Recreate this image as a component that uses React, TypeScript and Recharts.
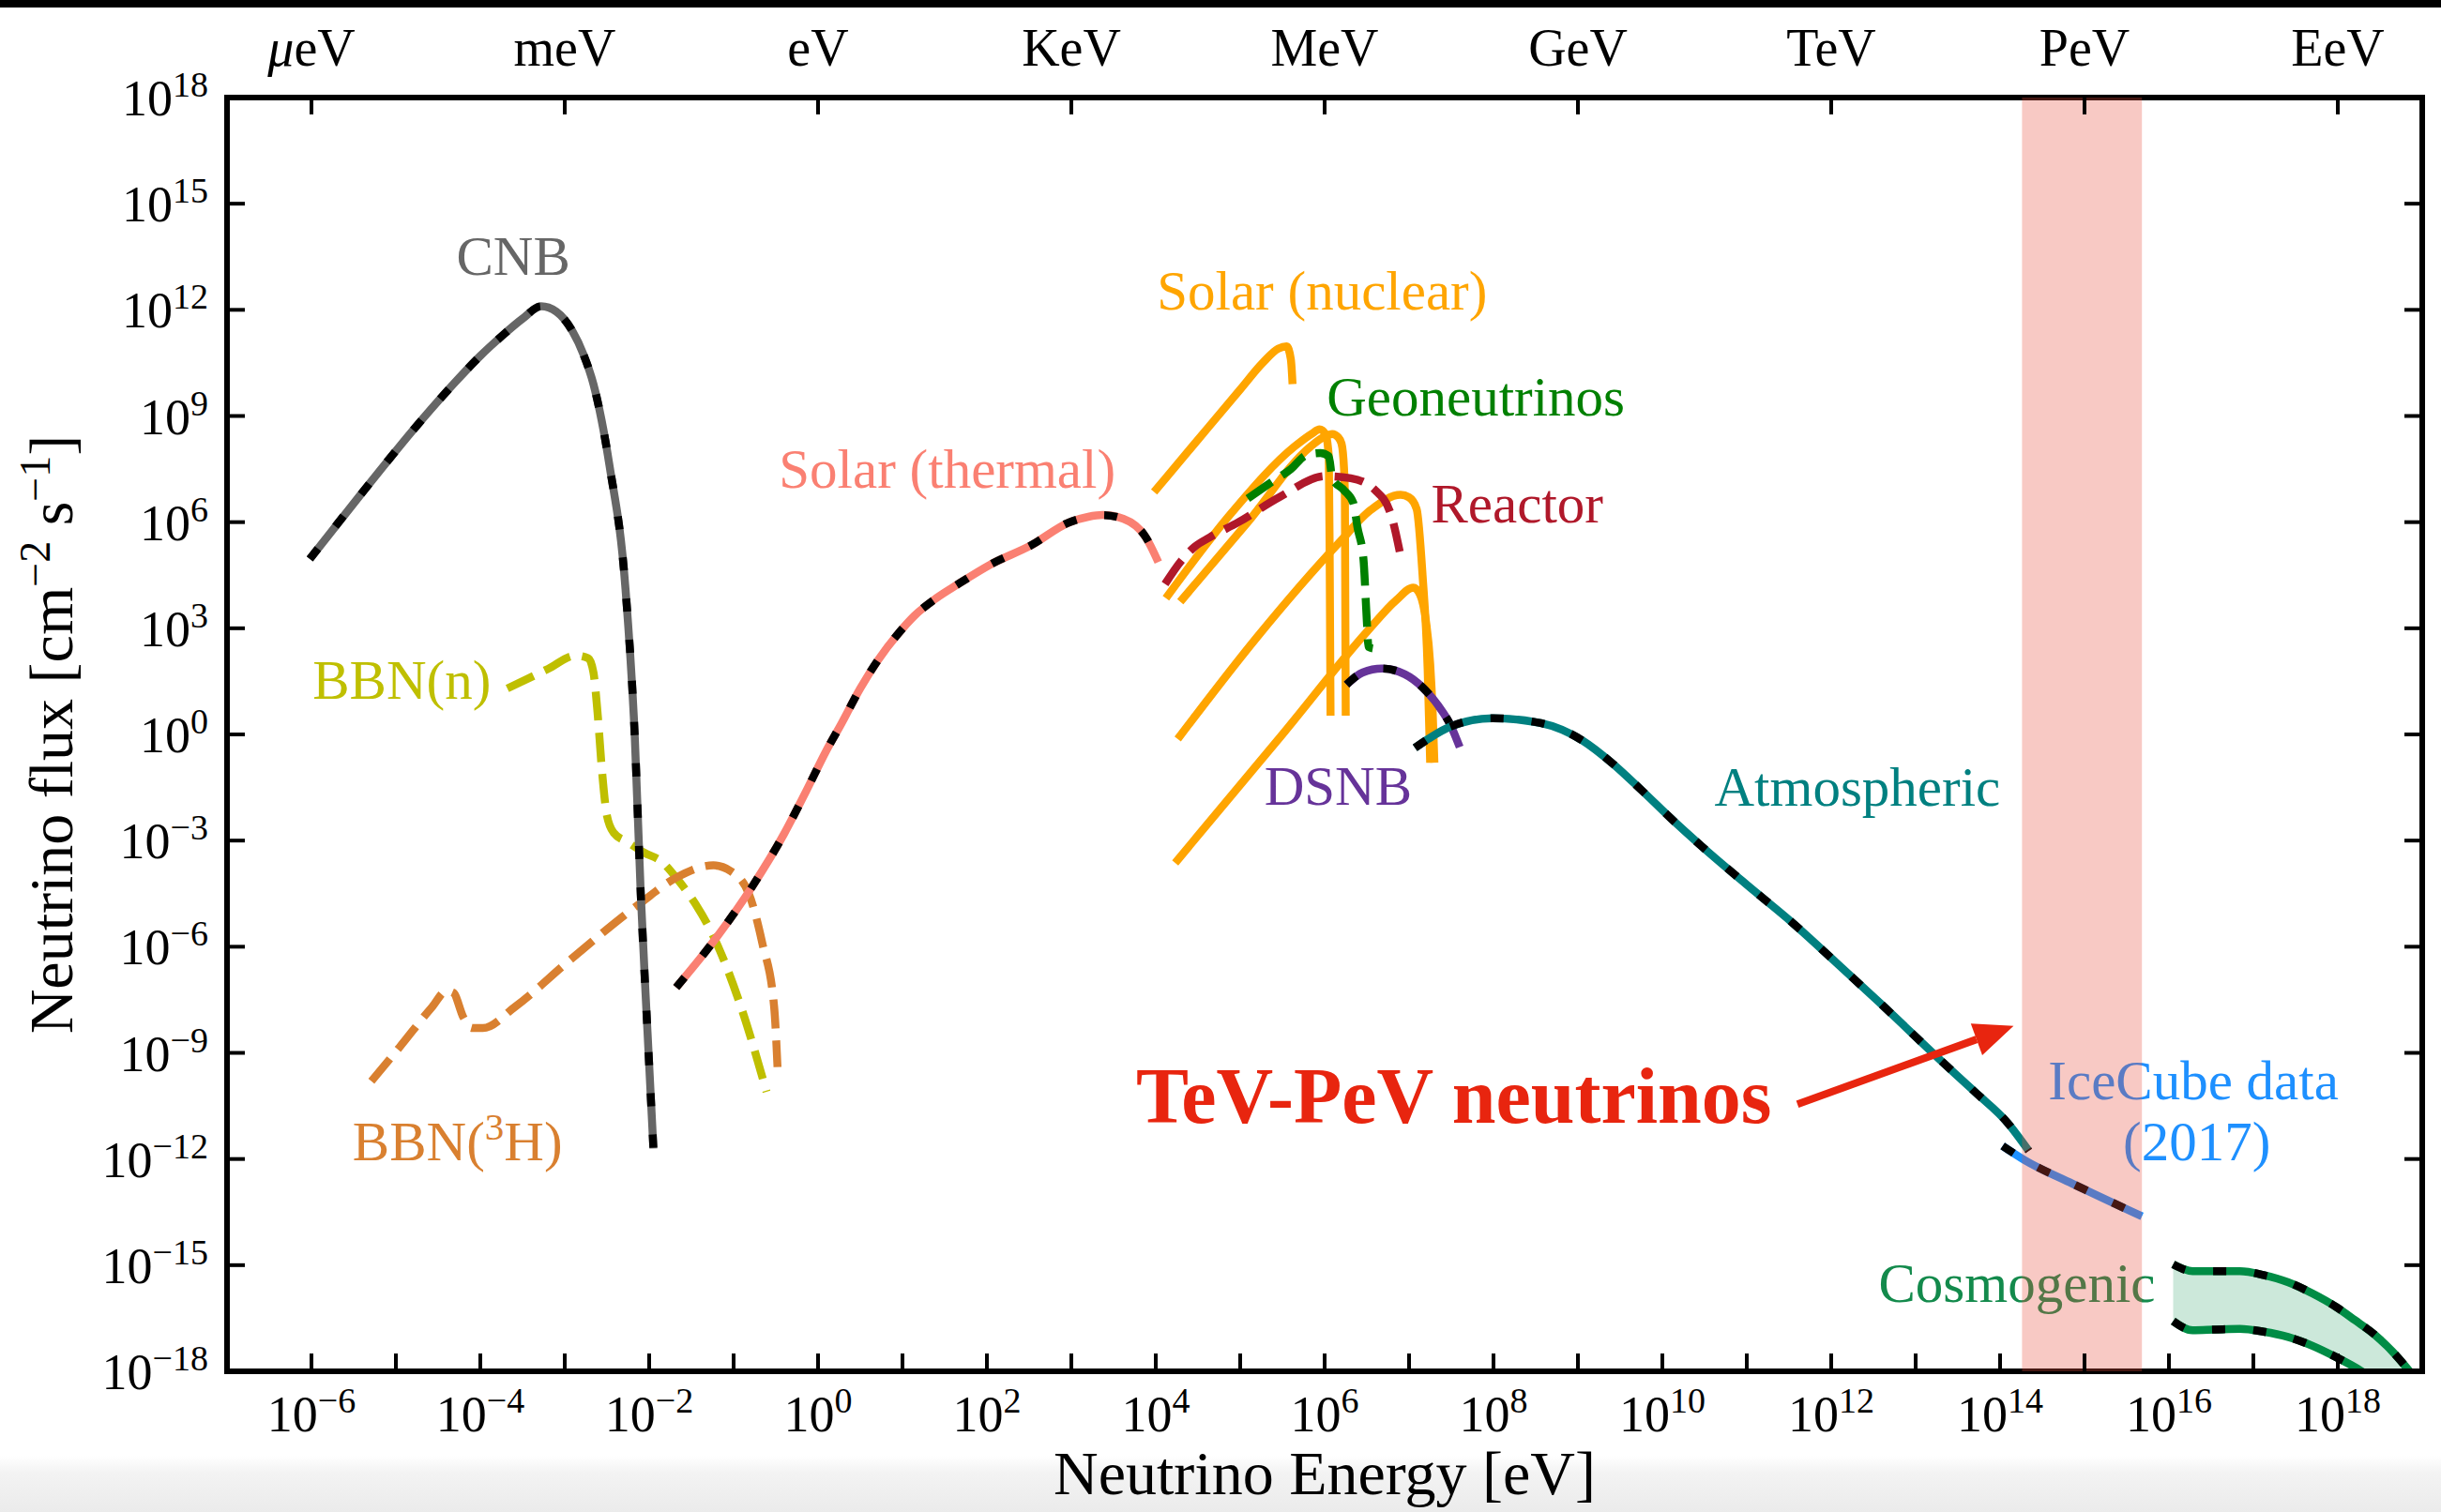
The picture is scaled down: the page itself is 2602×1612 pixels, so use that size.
import React from 'react';
import {
  ComposedChart,
  Line,
  Area,
  XAxis,
  YAxis,
  ReferenceDot,
  ReferenceLine,
} from 'recharts';

const SERIF = '"Liberation Serif", "DejaVu Serif", serif';
const ARROW_RED = '#e8250f';

// every curve: log10(E / eV) against log10(flux / cm^-2 s^-1)
const cnbE = [-6.02, -5.43, -4.69, -4.3, -4.0, -3.75, -3.5, -3.28, -3.1, -2.91, -2.78, -2.66, -2.47, -2.28, -2.17, -2.1, -2.02, -1.95];
const cnbFlux = [4.96, 6.74, 8.9, 9.95, 10.7, 11.25, 11.75, 12.1, 11.95, 11.4, 10.75, 9.9, 7.6, 4.1, -0.1, -4.5, -8.4, -11.7];

const bbnNE = [-3.68, -3.2, -2.87, -2.72, -2.66, -2.61, -2.56, -2.5, -2.42, -2.25, -2.06, -1.85, -1.68, -1.45, -1.24, -0.91, -0.61];
const bbnNFlux = [1.3, 1.85, 2.23, 2.15, 1.75, 0.57, -1.0, -2.3, -2.78, -3.05, -3.34, -3.6, -4.05, -4.8, -5.7, -7.72, -10.1];

const bbnTE = [-5.29, -4.96, -4.57, -4.4, -4.32, -4.2, -4.1, -3.97, -3.59, -2.95, -2.1, -1.68, -1.24, -1.03, -0.82, -0.66, -0.52, -0.48];
const bbnTFlux = [-9.8, -8.85, -7.7, -7.25, -7.3, -8.0, -8.3, -8.3, -7.7, -6.4, -4.76, -4.05, -3.7, -3.87, -4.5, -5.9, -7.7, -9.4];

const thermalE = [-1.68, -1.2, -0.78, -0.4, -0.14, 0.1, 0.28, 0.5, 0.71, 0.95, 1.14, 1.4, 1.66, 2.04, 2.52, 2.98, 3.2, 3.37, 3.62, 3.88, 4.03];
const thermalFlux = [-7.15, -5.73, -4.3, -2.8, -1.6, -0.45, 0.32, 1.3, 2.1, 2.85, 3.35, 3.85, 4.25, 4.8, 5.34, 6.0, 6.15, 6.2, 6.09, 5.58, 4.87];

const reactorE = [4.11, 4.3, 4.46, 4.64, 4.98, 5.46, 6.01, 6.31, 6.6, 6.79, 6.9];
const reactorFlux = [4.25, 4.9, 5.3, 5.57, 6.0, 6.7, 7.3, 7.24, 6.9, 6.18, 5.04];

const geoE = [5.09, 5.35, 5.6, 5.79, 5.95, 6.05, 6.09, 6.23, 6.34, 6.39, 6.46, 6.5, 6.52, 6.57];
const geoFlux = [6.67, 7.1, 7.5, 7.9, 7.95, 7.86, 7.24, 6.9, 6.54, 5.84, 4.95, 3.19, 2.47, 2.43];

// solar fusion spectra, one pair of arrays per branch
const nuc1E = [3.98, 4.5, 5.0, 5.27, 5.45, 5.55, 5.6, 5.62];
const nuc1Flux = [6.85, 8.33, 9.75, 10.51, 10.9, 10.97, 10.6, 9.9];
const nuc2E = [4.12, 4.9, 5.64, 5.85, 5.94, 6.01, 6.04, 6.05, 6.06, 6.07];
const nuc2Flux = [3.85, 6.27, 8.13, 8.5, 8.62, 8.49, 8.1, 7.77, 4.94, 0.53];
const nuc3E = [4.29, 5.09, 5.83, 6.0, 6.09, 6.16, 6.2, 6.23, 6.24, 6.25];
const nuc3Flux = [3.75, 6.0, 8.13, 8.42, 8.49, 8.4, 8.22, 7.5, 6.71, 0.53];
const nuc4E = [4.26, 5.2, 6.16, 6.55, 6.9, 7.0, 7.09, 7.16, 7.22, 7.25];
const nuc4Flux = [-0.13, 2.75, 5.39, 6.35, 6.77, 6.7, 6.37, 4.5, 1.86, -0.8];
const nuc5E = [4.23, 5.5, 6.5, 6.85, 7.05, 7.13, 7.2, 7.25, 7.28, 7.3];
const nuc5Flux = [-3.63, 0.0, 2.9, 3.8, 4.15, 3.95, 3.2, 2.0, 0.6, -0.8];

const dsnbE = [6.26, 6.45, 6.68, 6.95, 7.16, 7.35, 7.49, 7.6];
const dsnbFlux = [1.41, 1.75, 1.86, 1.7, 1.33, 0.8, 0.27, -0.36];

const atmoE = [7.07, 7.5, 7.99, 8.56, 9.06, 9.4, 9.76, 10.1, 10.47, 11.0, 11.53, 12.06, 12.6, 13.3, 13.7, 14.09, 14.34];
const atmoFlux = [-0.38, 0.23, 0.46, 0.32, -0.18, -0.8, -1.59, -2.37, -3.17, -4.25, -5.3, -6.45, -7.64, -9.22, -10.1, -10.98, -11.77];

const iceCubeE = [14.03, 14.29, 14.86, 15.68];
const iceCubeFlux = [-11.63, -12.03, -12.7, -13.62];

const cosmoE = [16.05, 16.28, 16.55, 16.84, 17.12, 17.41, 17.7, 17.98, 18.2, 18.44, 18.65, 18.85, 19.0];
const cosmoHigh = [-14.98, -15.17, -15.17, -15.17, -15.28, -15.48, -15.8, -16.18, -16.55, -16.97, -17.45, -18.0, -18.45];
const cosmoLow = [-16.58, -16.84, -16.82, -16.8, -16.88, -17.03, -17.28, -17.6, -17.88, -18.25, -18.6, -19.0, -19.3];

// axes
const energyTicks = [-6, -5, -4, -3, -2, -1, 0, 1, 2, 3, 4, 5, 6, 7, 8, 9, 10, 11, 12, 13, 14, 15, 16, 17, 18];
const fluxTicks = [-18, -15, -12, -9, -6, -3, 0, 3, 6, 9, 12, 15, 18];
const unitTicks = [-6, -3, 0, 3, 6, 9, 12, 15, 18];
const unitLabels = ['μeV', 'meV', 'eV', 'KeV', 'MeV', 'GeV', 'TeV', 'PeV', 'EeV'];

// TeV-PeV window and the arrow pointing at it
const iceCubeBand = [14.26, 15.68];
const arrowFrom = [11.6, -10.45];
const arrowTo = [14.16, -8.24];

const notes = [
  { text: 'CNB', e: -3.61, f: 13.0, color: '#666666' },
  { text: 'Solar (nuclear)', e: 5.97, f: 12.0, color: '#ffa500' },
  { text: 'Geoneutrinos', e: 7.79, f: 9.01, color: '#008000' },
  { text: 'Reactor', e: 8.28, f: 5.99, color: '#b0182a' },
  { text: 'Solar (thermal)', e: 1.53, f: 6.96, color: '#fa8072' },
  { text: 'BBN(n)', e: -4.93, f: 1.02, color: '#bfbf00' },
  { text: 'BBN(^{3}H)', e: -4.27, f: -12.04, color: '#d98030' },
  { text: 'DSNB', e: 6.16, f: -1.99, color: '#663399' },
  { text: 'Atmospheric', e: 12.31, f: -2.01, color: '#008080' },
  { text: 'IceCube data', e: 16.29, f: -10.3, color: '#1e90ff' },
  { text: '(2017)', e: 16.33, f: -12.03, color: '#1e90ff' },
  { text: 'Cosmogenic', e: 14.2, f: -16.04, color: '#138a4c' },
];
const headline = { text: 'TeV-PeV neutrinos', e: 7.53, f: -10.98 };

const toPoints = (xs: number[], ys: number[]) => xs.map((x, i) => ({ x, y: ys[i] }));
const cosmoRows = cosmoE.map((x, i) => ({ x, hi: cosmoHigh[i], lo: cosmoLow[i] }));
const bandRows = iceCubeBand.map((x) => ({ x, lo: -18, hi: 18 }));

const minus = (v: number) => (v < 0 ? `\u2212${-v}` : `${v}`);

// turns "a^{b}c" into tspans with a raised, smaller b
function rich(str: string, size: number) {
  const parts = str.split(/\^\{([^}]*)\}/);
  const sup = Math.round(size * 0.7);
  const lift = Math.round(size * 0.37);
  return parts.map((p, i) => {
    if (i % 2 === 1) {
      return (
        <tspan key={i} dy={-lift} fontSize={sup}>
          {p}
        </tspan>
      );
    }
    return (
      <tspan key={i} dy={i > 0 ? lift : 0} fontSize={size}>
        {p}
      </tspan>
    );
  });
}

function BottomTick(props: any) {
  const { x, y, payload } = props;
  const v = payload.value as number;
  return (
    <g>
      <line x1={x} y1={y} x2={x} y2={y - 19} stroke="#000" strokeWidth={4} />
      {Math.abs(v) % 2 === 0 && (
        <text x={x} y={y + 64} textAnchor="middle" fontFamily={SERIF} fill="#000" style={{ whiteSpace: 'pre' }}>
          {rich(`10^{${minus(v)}}`, 54)}
        </text>
      )}
    </g>
  );
}

function TopTick(props: any) {
  const { x, y, payload } = props;
  const name = unitLabels[unitTicks.indexOf(payload.value)] ?? '';
  return (
    <g>
      <line x1={x} y1={y} x2={x} y2={y + 18} stroke="#000" strokeWidth={4} />
      <text x={x} y={y - 34} textAnchor="middle" fontFamily={SERIF} fontSize={56} fill="#000">
        {name.startsWith('μ') ? (
          <>
            <tspan fontStyle="italic">μ</tspan>
            <tspan>{name.slice(1)}</tspan>
          </>
        ) : (
          name
        )}
      </text>
    </g>
  );
}

function LeftTick(props: any) {
  const { x, y, payload } = props;
  return (
    <g>
      <line x1={x} y1={y} x2={x + 19} y2={y} stroke="#000" strokeWidth={4} />
      <text x={x - 20} y={y + 19} textAnchor="end" fontFamily={SERIF} fill="#000">
        {rich(`10^{${minus(payload.value)}}`, 54)}
      </text>
    </g>
  );
}

function RightTick(props: any) {
  const { x, y } = props;
  return <line x1={x} y1={y} x2={x - 19} y2={y} stroke="#000" strokeWidth={4} />;
}

function ArrowShape(props: any) {
  const { x1, y1, x2, y2 } = props;
  const ang = Math.atan2(y2 - y1, x2 - x1);
  const len = 42;
  const half = 18;
  const bx = x2 - len * Math.cos(ang);
  const by = y2 - len * Math.sin(ang);
  const nx = -Math.sin(ang);
  const ny = Math.cos(ang);
  return (
    <g>
      <line x1={x1} y1={y1} x2={bx} y2={by} stroke={ARROW_RED} strokeWidth={8} />
      <polygon
        points={`${x2},${y2} ${bx + nx * half},${by + ny * half} ${bx - nx * half},${by - ny * half}`}
        fill={ARROW_RED}
      />
    </g>
  );
}

const common = {
  dataKey: 'y',
  type: 'monotone' as const,
  dot: false,
  activeDot: false,
  isAnimationActive: false,
};

const solid = (key: string, data: any[], color: string) => (
  <Line key={key} {...common} data={data} stroke={color} strokeWidth={8.5} />
);

const dashed = (key: string, data: any[], color: string) => (
  <Line key={key} {...common} data={data} stroke={color} strokeWidth={8.5} strokeDasharray="31 13" />
);

// coloured line with black dashes laid over it
const striped = (key: string, data: any[], color: string, dataKey = 'y') => [
  <Line key={key} {...common} dataKey={dataKey} data={data} stroke={color} strokeWidth={8.5} />,
  <Line
    key={key + '-dash'}
    {...common}
    dataKey={dataKey}
    data={data}
    stroke="#000"
    strokeWidth={8.5}
    strokeDasharray="14 30"
  />,
];

export default function App() {
  return (
    <div style={{ position: 'absolute', left: 0, top: 0, width: 2602, height: 1612, background: '#fff', overflow: 'hidden' }}>
      <div style={{ position: 'absolute', left: 0, top: 0, width: '100%', height: 8, background: '#000' }} />
      <div
        style={{
          position: 'absolute',
          left: 0,
          bottom: 0,
          width: '100%',
          height: 60,
          background: 'linear-gradient(to bottom, rgba(236,236,236,0) 0%, #f3f3f3 30%, #ebebeb 100%)',
        }}
      />
      <div style={{ position: 'absolute', left: 0, top: 0 }}>
        <ComposedChart width={2602} height={1612} margin={{ top: 24, right: 10, bottom: 50, left: 92 }}>
          <XAxis
            dataKey="x"
            type="number"
            domain={[-7, 19]}
            allowDataOverflow
            ticks={energyTicks}
            interval={0}
            height={100}
            tickSize={0}
            tickMargin={0}
            tickLine={false}
            tick={BottomTick}
            axisLine={{ stroke: '#000', strokeWidth: 6, strokeLinecap: 'square' }}
            label={(p: any) => {
              const vb = p.viewBox;
              return (
                <text x={vb.x + vb.width / 2} y={vb.y + 131} textAnchor="middle" fontFamily={SERIF} fontSize={66} fill="#000">
                  Neutrino Energy [eV]
                </text>
              );
            }}
          />
          <XAxis
            xAxisId="top"
            orientation="top"
            dataKey="x"
            type="number"
            domain={[-7, 19]}
            allowDataOverflow
            ticks={unitTicks}
            interval={0}
            height={80}
            tickSize={0}
            tickMargin={0}
            tickLine={false}
            tick={TopTick}
            axisLine={{ stroke: '#000', strokeWidth: 6, strokeLinecap: 'square' }}
          />
          <YAxis
            type="number"
            domain={[-18, 18]}
            allowDataOverflow
            ticks={fluxTicks}
            interval={0}
            width={150}
            tickSize={0}
            tickMargin={0}
            tickLine={false}
            tick={LeftTick}
            axisLine={{ stroke: '#000', strokeWidth: 6, strokeLinecap: 'square' }}
            label={(p: any) => {
              const vb = p.viewBox;
              const cx = vb.x - 15;
              const cy = vb.y + vb.height / 2;
              return (
                <text
                  x={cx}
                  y={cy}
                  transform={`rotate(-90, ${cx}, ${cy})`}
                  textAnchor="middle"
                  fontFamily={SERIF}
                  fill="#000"
                  style={{ whiteSpace: 'pre' }}
                >
                  {rich('Neutrino flux [cm^{\u22122} s^{\u22121}]', 66)}
                </text>
              );
            }}
          />
          <YAxis
            yAxisId="r"
            orientation="right"
            type="number"
            domain={[-18, 18]}
            allowDataOverflow
            ticks={fluxTicks}
            interval={0}
            width={10}
            tickSize={0}
            tickMargin={0}
            tickLine={false}
            tick={RightTick}
            axisLine={{ stroke: '#000', strokeWidth: 6, strokeLinecap: 'square' }}
          />

          <Area
            data={cosmoRows}
            dataKey={(d: any) => [d.lo, d.hi]}
            type="monotone"
            stroke="none"
            fill="#008c45"
            fillOpacity={0.2}
            dot={false}
            activeDot={false}
            isAnimationActive={false}
          />

          {dashed('bbn-n', toPoints(bbnNE, bbnNFlux), '#bfbf00')}
          {dashed('bbn-t', toPoints(bbnTE, bbnTFlux), '#d98030')}
          {striped('cnb', toPoints(cnbE, cnbFlux), '#666666')}
          {striped('thermal', toPoints(thermalE, thermalFlux), '#fa8072')}
          {solid('nuc1', toPoints(nuc1E, nuc1Flux), '#ffa500')}
          {solid('nuc2', toPoints(nuc2E, nuc2Flux), '#ffa500')}
          {solid('nuc3', toPoints(nuc3E, nuc3Flux), '#ffa500')}
          {solid('nuc4', toPoints(nuc4E, nuc4Flux), '#ffa500')}
          {solid('nuc5', toPoints(nuc5E, nuc5Flux), '#ffa500')}
          {dashed('reactor', toPoints(reactorE, reactorFlux), '#b0182a')}
          {dashed('geo', toPoints(geoE, geoFlux), '#008000')}
          {striped('dsnb', toPoints(dsnbE, dsnbFlux), '#663399')}
          {striped('atmo', toPoints(atmoE, atmoFlux), '#008080')}
          {striped('icecube', toPoints(iceCubeE, iceCubeFlux), '#1e90ff')}
          {striped('cosmo-hi', cosmoRows, '#008c45', 'hi')}
          {striped('cosmo-lo', cosmoRows, '#008c45', 'lo')}

          <ReferenceLine
            segment={[
              { x: arrowFrom[0], y: arrowFrom[1] },
              { x: arrowTo[0], y: arrowTo[1] },
            ]}
            shape={ArrowShape}
          />

          {notes.map((n) => (
            <ReferenceDot
              key={n.text}
              x={n.e}
              y={n.f}
              r={0}
              shape={(p: any) => (
                <text x={p.cx} y={p.cy} textAnchor="middle" fontFamily={SERIF} fill={n.color}>
                  {rich(n.text, 59)}
                </text>
              )}
            />
          ))}
          <ReferenceDot
            x={headline.e}
            y={headline.f}
            r={0}
            shape={(p: any) => (
              <text x={p.cx} y={p.cy} textAnchor="middle" fontFamily={SERIF} fontWeight="bold" fontSize={84} fill={ARROW_RED}>
                {headline.text}
              </text>
            )}
          />

          {/* translucent TeV-PeV window, laid over the curves and labels */}
          <Area
            data={bandRows}
            dataKey={(d: any) => [d.lo, d.hi]}
            type="linear"
            stroke="none"
            fill="#e74c3c"
            fillOpacity={0.3}
            dot={false}
            activeDot={false}
            isAnimationActive={false}
            {...({ zIndex: 1500 } as any)}
          />
        </ComposedChart>
      </div>
    </div>
  );
}
